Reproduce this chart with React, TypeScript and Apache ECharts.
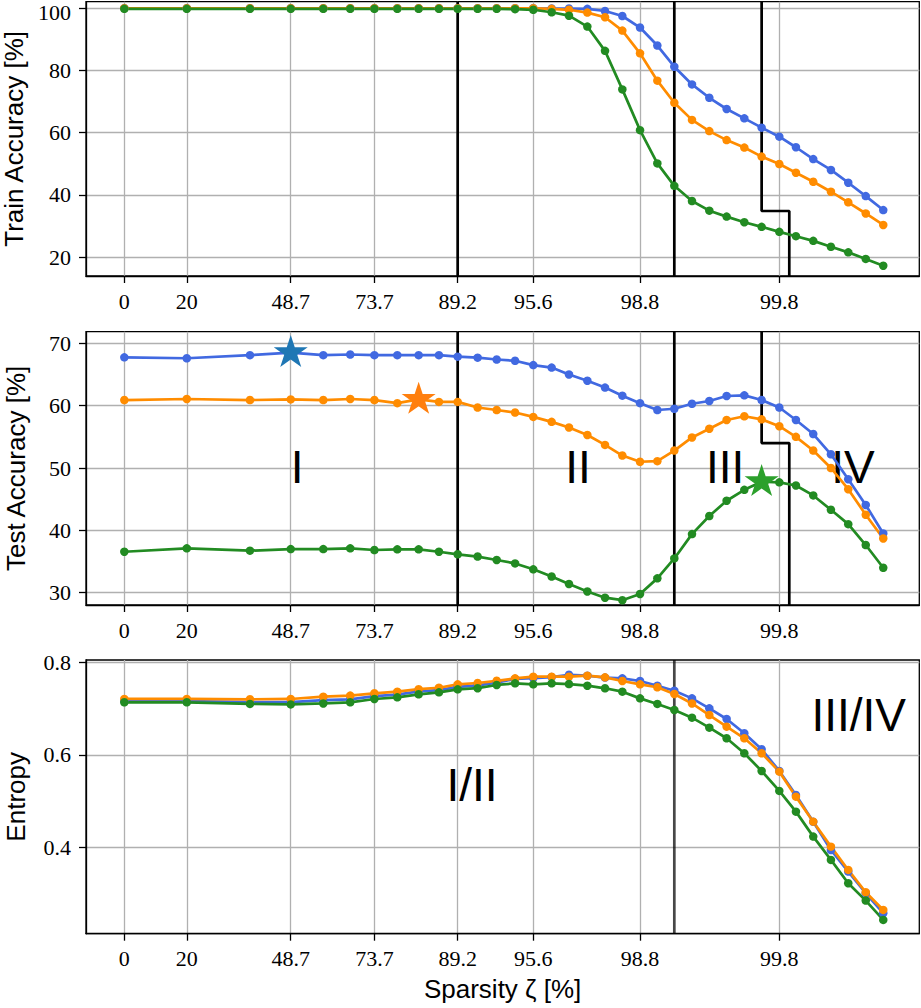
import React, { useEffect, useRef } from "react";
import * as echarts from "echarts";

// Positions of the 35 pruning steps on the (non-linear) sparsity axis
const xPos = [
  0, 3.57, 7.18, 9.51, 11.37, 12.91, 14.29, 15.6, 16.82, 17.98,
  19.05, 20.19, 21.28, 22.33, 23.37, 24.42, 25.41, 26.46, 27.47, 28.46,
  29.47, 30.46, 31.43, 32.44, 33.43, 34.42, 35.43, 36.42, 37.43, 38.38,
  39.37, 40.38, 41.37, 42.37, 43.37,
];
const tickIdx = [0, 1, 3, 6, 10, 14, 20, 28];
const tickLabels = ["0", "20", "48.7", "73.7", "89.2", "95.6", "98.8", "99.8"];

const trainBlue = [
  100, 100, 100, 100, 100, 100, 100, 100, 100, 100,
  100, 100, 100, 100, 100, 99.9, 99.9, 99.8, 99.1, 97.5,
  93.8, 88.0, 81.2, 75.5, 71.2, 67.6, 64.6, 61.6, 58.7, 55.3,
  51.5, 48.0, 43.9, 39.6, 35.1,
];
const trainOrange = [
  100, 100, 100, 100, 100, 100, 100, 100, 100, 100,
  100, 100, 100, 100, 100, 99.8, 99.5, 98.6, 97.1, 92.8,
  85.5, 76.7, 69.6, 64.1, 60.5, 57.6, 55.2, 52.3, 49.9, 47.1,
  44.2, 41.0, 37.6, 34.0, 30.3,
];
const trainGreen = [
  99.8, 99.8, 99.8, 99.8, 99.8, 99.8, 99.8, 99.8, 99.8, 99.8,
  99.8, 99.8, 99.8, 99.7, 99.5, 98.7, 97.6, 94.1, 86.3, 73.9,
  60.8, 50.1, 42.9, 38.0, 34.9, 33.0, 31.2, 29.7, 28.1, 26.7,
  25.2, 23.3, 21.5, 19.4, 17.2,
];

const testBlue = [
  67.75, 67.6, 68.1, 68.5, 68.1, 68.2, 68.1, 68.1, 68.1, 68.1,
  67.86, 67.7, 67.4, 67.2, 66.5, 66.1, 65.0, 64.0, 62.9, 61.6,
  60.4, 59.3, 59.5, 60.3, 60.75, 61.55, 61.65, 60.9, 59.7, 57.7,
  55.45, 52.2, 48.2, 44.07, 39.5,
];
const testOrange = [
  60.9, 61.07, 60.9, 61.0, 60.9, 61.07, 60.9, 60.4, 61.0, 60.6,
  60.6, 59.7, 59.3, 58.9, 58.2, 57.4, 56.5, 55.3, 53.7, 52.0,
  51.0, 51.1, 52.8, 54.9, 56.3, 57.7, 58.3, 57.8, 56.7, 55.0,
  52.8, 50.0, 46.6, 42.5, 38.7,
];
const testGreen = [
  36.57, 37.12, 36.74, 37.0, 37.0, 37.12, 36.85, 36.96, 36.96, 36.57,
  36.16, 35.8, 35.25, 34.7, 33.75, 32.6, 31.4, 30.2, 29.2, 28.8,
  29.8, 32.3, 35.5, 39.4, 42.3, 44.75, 46.5, 47.8, 47.7, 47.2,
  45.6, 43.3, 41.0, 37.65, 34.0,
];
// index of the starred (best) point of each series
const bestIdx = { blue: 3, orange: 8, green: 27 };

const entropyBlue = [
  0.716, 0.716, 0.714, 0.714, 0.718, 0.72, 0.727, 0.73, 0.737, 0.74,
  0.747, 0.75, 0.756, 0.764, 0.766, 0.768, 0.773, 0.771, 0.767, 0.7653,
  0.7596, 0.7494, 0.7386, 0.722, 0.7005, 0.6774, 0.6465, 0.6119, 0.565, 0.513,
  0.455, 0.394, 0.3473, 0.3005, 0.2573,
];
const entropyOrange = [
  0.7207, 0.7207, 0.72, 0.7207, 0.7257, 0.728, 0.733, 0.7365, 0.742, 0.745,
  0.7524, 0.7552, 0.76, 0.7653, 0.769, 0.769, 0.769, 0.771, 0.7675, 0.7596,
  0.7524, 0.746, 0.7315, 0.711, 0.686, 0.6608, 0.6357, 0.6033, 0.5635, 0.5094,
  0.4553, 0.4013, 0.3509, 0.3027, 0.2644,
];
const entropyGreen = [
  0.7135, 0.7135, 0.71, 0.709, 0.711, 0.7135, 0.7207, 0.7243, 0.7308, 0.735,
  0.7416, 0.744, 0.751, 0.7545, 0.7524, 0.7545, 0.753, 0.7494, 0.7438, 0.7365,
  0.722, 0.71, 0.6969, 0.6803, 0.6586, 0.6357, 0.6033, 0.565, 0.5218, 0.477,
  0.423, 0.3726, 0.3222, 0.2846, 0.2428,
];

// phase boundaries
const boundaryA = 10; // step index
const boundaryB = 22; // step index
const stepLeftIdx = 27;
const stepRightX = 38.0;
const stepTrainY = 34.8;
const stepTestY = 54.0;

const trainTicks = [20, 40, 60, 80, 100];
const testTicks = [30, 40, 50, 60, 70];
const entropyTicks = [0.4, 0.6, 0.8];

const testRegions = [
  { name: "I", x: 9.87, y: 50.2 },
  { name: "II", x: 25.93, y: 50.2 },
  { name: "III", x: 34.33, y: 50.2 },
  { name: "IV", x: 41.64, y: 50.2 },
];
const entropyRegions = [
  { name: "I/II", x: 19.87, y: 0.535 },
  { name: "III/IV", x: 41.97, y: 0.686 },
];

const X_MIN = -2.19;
const X_MAX = 45.43;
const Y_RANGES = [
  [13.9, 102.1],
  [28.03, 71.86],
  [0.213, 0.805],
];

const BLUE = "#4169e1";
const ORANGE = "#ff8c00";
const GREEN = "#228b22";
const STAR =
  "path://M0,-50 L11.23,-15.45 L47.55,-15.45 L18.16,5.9 L29.39,40.45 L0,19.1 L-29.39,40.45 L-18.16,5.9 L-47.55,-15.45 L-11.23,-15.45 Z";

const SERIF = "'Liberation Serif', 'DejaVu Serif', serif";
const SANS = "'Liberation Sans', Arial, sans-serif";

export default function App() {
  const ref = useRef<HTMLDivElement>(null);

  useEffect(() => {
    const chart = echarts.init(ref.current!, null, { renderer: "svg" });
    const tickVals = tickIdx.map((i) => xPos[i]);
    const xLabel = (v: number) => {
      let best = 0;
      for (let i = 1; i < tickVals.length; i++) {
        if (Math.abs(tickVals[i] - v) < Math.abs(tickVals[best] - v)) best = i;
      }
      return tickLabels[best];
    };

    const grids = [
      { left: 86, right: 1.7, top: 1.7, height: 274.3 },
      { left: 86, right: 1.7, top: 331.7, height: 273.3 },
      { left: 86, right: 1.7, top: 660, height: 273.7 },
    ].map((g) => ({
      ...g,
      show: true,
      borderColor: "#000",
      borderWidth: 1.3,
      backgroundColor: "transparent",
      containLabel: false,
      outerBoundsMode: "none",
    }));

    const xAxes = [0, 1, 2].map((gi) => ({
      type: "value",
      gridIndex: gi,
      min: X_MIN,
      max: X_MAX,
      name: gi === 2 ? "Sparsity \u03b6 [%]" : "",
      nameLocation: "middle",
      nameGap: 42,
      nameTextStyle: { fontFamily: SANS, fontSize: 26, color: "#000" },
      axisLine: { show: true, onZero: false, lineStyle: { color: "#000", width: 1.3 } },
      axisTick: { show: true, customValues: tickVals, length: 7, lineStyle: { color: "#000", width: 1.3 } },
      axisLabel: {
        customValues: tickVals,
        formatter: (v: number) => xLabel(v),
        fontFamily: SERIF,
        fontSize: 22,
        color: "#000",
        margin: 14,
      },
      splitLine: { show: true, lineStyle: { color: "#b0b0b0", width: 1.3 } },
    }));

    const yNames = ["Train Accuracy [%]", "Test Accuracy [%]", "Entropy"];
    const yTicks = [trainTicks, testTicks, entropyTicks];
    const yAxes = [0, 1, 2].map((gi) => ({
      type: "value",
      gridIndex: gi,
      min: Y_RANGES[gi][0],
      max: Y_RANGES[gi][1],
      name: yNames[gi],
      nameLocation: "middle",
      nameGap: 57,
      nameTextStyle: { fontFamily: SANS, fontSize: 26, lineHeight: 26, color: "#000" },
      axisLine: { show: true, onZero: false, lineStyle: { color: "#000", width: 1.3 } },
      axisTick: { show: true, customValues: yTicks[gi], length: 7, lineStyle: { color: "#000", width: 1.3 } },
      axisLabel: {
        customValues: yTicks[gi],
        formatter: (v: number) => {
          if (gi === 2) return v.toFixed(1);
          const s = String(Math.round(v));
          // the topmost label sits at the page edge: nudge it down a little
          return gi === 0 && Math.round(v) === 100 ? `{top|${s}}` : s;
        },
        fontFamily: SERIF,
        fontSize: 22,
        lineHeight: 15,
        color: "#000",
        margin: 15,
        rich: {
          top: { fontFamily: SERIF, fontSize: 22, lineHeight: 15, color: "#000", padding: [8, 0, 0, 0] },
        },
      },
      splitLine: { show: true, lineStyle: { color: "#b0b0b0", width: 1.3 } },
    }));

    const dataLine = (gi: number, vals: number[], color: string) => ({
      type: "line",
      xAxisIndex: gi,
      yAxisIndex: gi,
      data: xPos.map((x, i) => [x, vals[i]]),
      symbol: "circle",
      symbolSize: 8.5,
      showSymbol: true,
      showAllSymbol: true,
      lineStyle: { width: 2.7, color },
      itemStyle: { color, opacity: 1 },
      z: 5,
      silent: true,
    });

    const blackLine = (gi: number, pts: number[][], color = "#000") => ({
      type: "line",
      xAxisIndex: gi,
      yAxisIndex: gi,
      data: pts,
      symbol: "none",
      lineStyle: { width: 2.7, color },
      z: 3,
      silent: true,
    });

    const star = (idx: number, vals: number[], color: string) => ({
      type: "scatter",
      xAxisIndex: 1,
      yAxisIndex: 1,
      data: [[xPos[idx], vals[idx]]],
      symbol: STAR,
      symbolSize: [34, 32],
      symbolOffset: [0, -1.7],
      itemStyle: { color, opacity: 1 },
      z: 8,
      silent: true,
    });

    const regionLabels = (gi: number, regs: { name: string; x: number; y: number }[]) => ({
      type: "scatter",
      xAxisIndex: gi,
      yAxisIndex: gi,
      data: regs.map((r) => ({ value: [r.x, r.y], name: r.name })),
      symbolSize: 1,
      itemStyle: { color: "rgba(0,0,0,0)", opacity: 1 },
      label: {
        show: true,
        position: "inside",
        formatter: (p: any) => p.name,
        fontFamily: SANS,
        fontSize: 46,
        color: "#000",
        opacity: 1,
        textBorderWidth: 0,
      },
      z: 4,
      silent: true,
    });

    const xa = xPos[boundaryA];
    const xb = xPos[boundaryB];
    const xs = xPos[stepLeftIdx];

    const option = {
      animation: false,
      backgroundColor: "#fff",
      grid: grids,
      xAxis: xAxes,
      yAxis: yAxes,
      series: [
        // panel 1 boundaries
        blackLine(0, [[xa, Y_RANGES[0][0]], [xa, Y_RANGES[0][1]]]),
        blackLine(0, [[xb, Y_RANGES[0][0]], [xb, Y_RANGES[0][1]]]),
        blackLine(0, [[xs, Y_RANGES[0][1]], [xs, stepTrainY], [stepRightX, stepTrainY], [stepRightX, Y_RANGES[0][0]]]),
        // panel 2 boundaries
        blackLine(1, [[xa, Y_RANGES[1][0]], [xa, Y_RANGES[1][1]]]),
        blackLine(1, [[xb, Y_RANGES[1][0]], [xb, Y_RANGES[1][1]]]),
        blackLine(1, [[xs, Y_RANGES[1][1]], [xs, stepTestY], [stepRightX, stepTestY], [stepRightX, Y_RANGES[1][0]]]),
        // panel 3 boundary
        blackLine(2, [[xb, Y_RANGES[2][0]], [xb, Y_RANGES[2][1]]], "rgba(0,0,0,0.72)"),
        // region labels
        regionLabels(1, testRegions),
        regionLabels(2, entropyRegions),
        // data
        dataLine(0, trainBlue, BLUE),
        dataLine(0, trainOrange, ORANGE),
        dataLine(0, trainGreen, GREEN),
        dataLine(1, testBlue, BLUE),
        dataLine(1, testOrange, ORANGE),
        dataLine(1, testGreen, GREEN),
        dataLine(2, entropyBlue, BLUE),
        dataLine(2, entropyOrange, ORANGE),
        dataLine(2, entropyGreen, GREEN),
        // stars
        star(bestIdx.blue, testBlue, "#1f77b4"),
        star(bestIdx.orange, testOrange, "#ff7f0e"),
        star(bestIdx.green, testGreen, "#2ca02c"),
      ],
    };

    chart.setOption(option as any);
    return () => chart.dispose();
  }, []);

  return (
    <div
      ref={ref}
      style={{ position: "absolute", left: 0, top: 0, width: 921, height: 1008, background: "#fff" }}
    />
  );
}
